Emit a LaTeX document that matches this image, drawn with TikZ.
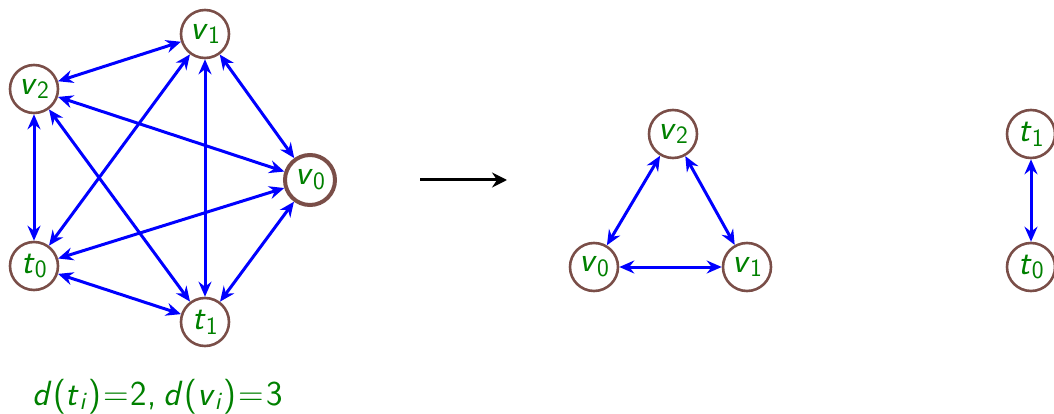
\documentclass[tikz,border=0pt]{standalone}
\usepackage{fontspec}
\usetikzlibrary{arrows.meta}
% sans-serif "math": slanted letters, upright digits, lowered small subscripts
\newcommand{\bigsf}{\fontsize{35}{42}\selectfont\sffamily}
\newcommand{\var}[1]{{\slshape #1\/}}
\newcommand{\sub}[1]{\raisebox{-0.14em}{\fontsize{25}{30}\selectfont #1}}
\newcommand{\vx}[2]{\var{#1}\sub{#2}}
\definecolor{nodebrown}{RGB}{122,78,72}
\definecolor{labelgreen}{RGB}{0,128,0}
\tikzset{
  vert/.style={circle, draw=nodebrown, line width=2.6pt, minimum size=48pt,
    inner sep=0pt, text=labelgreen, font=\bigsf},
  hubvert/.style={vert, line width=4pt, minimum size=50pt},
  edge/.style={draw=blue, line width=3pt, {Stealth[length=15pt,width=13pt,inset=5pt]}-{Stealth[length=15pt,width=13pt,inset=5pt]}},
  maparrow/.style={draw=black, line width=3pt,
    -{Stealth[length=15pt,width=15pt,inset=5pt]}}
}
\begin{document}
\begin{tikzpicture}[x=1pt,y=-1pt]
  \useasboundingbox (0,0) rectangle (1054,414);

  % complete graph on five vertices
  \node[vert]    (a1) at (205,34)  {\vx{v}{1}};
  \node[vert]    (a2) at (34,89)   {\vx{v}{2}};
  \node[hubvert] (a0) at (310,180) {\vx{v}{0}};
  \node[vert]    (b0) at (34,266)  {\vx{t}{0}};
  \node[vert]    (b1) at (205,322) {\vx{t}{1}};

  \draw[edge] (a1) -- (a2);
  \draw[edge] (a1) -- (a0);
  \draw[edge] (a1) -- (b0);
  \draw[edge] (a1) -- (b1);
  \draw[edge] (a2) -- (a0);
  \draw[edge] (a2) -- (b0);
  \draw[edge] (a2) -- (b1);
  \draw[edge] (a0) -- (b0);
  \draw[edge] (a0) -- (b1);
  \draw[edge] (b0) -- (b1);

  \node[anchor=base west, text=labelgreen, inner sep=0pt, font=\bigsf]
    (deg) at (32,405)
    {\var{d}\kern1.5pt(\var{t}\sub{\var{i}}\kern1.5pt)\kern2pt=\kern2pt2,\kern7pt\var{d}\kern1.5pt(\var{v}\sub{\var{i}}\kern1.5pt)\kern2pt=\kern2pt3};

  % splitting arrow
  \coordinate (m0) at (420,180);
  \coordinate (m1) at (507,180);
  \draw[maparrow] (m0) -- (m1);

  % triangle on the v vertices
  \node[vert] (c2) at (673,134) {\vx{v}{2}};
  \node[vert] (c0) at (594,267) {\vx{v}{0}};
  \node[vert] (c1) at (747,267) {\vx{v}{1}};
  \draw[edge] (c2) -- (c0);
  \draw[edge] (c2) -- (c1);
  \draw[edge] (c0) -- (c1);

  % edge on the t vertices
  \node[vert] (d1) at (1031,134) {\vx{t}{1}};
  \node[vert] (d0) at (1031,267) {\vx{t}{0}};
  \draw[edge] (d1) -- (d0);
\end{tikzpicture}
\end{document}
